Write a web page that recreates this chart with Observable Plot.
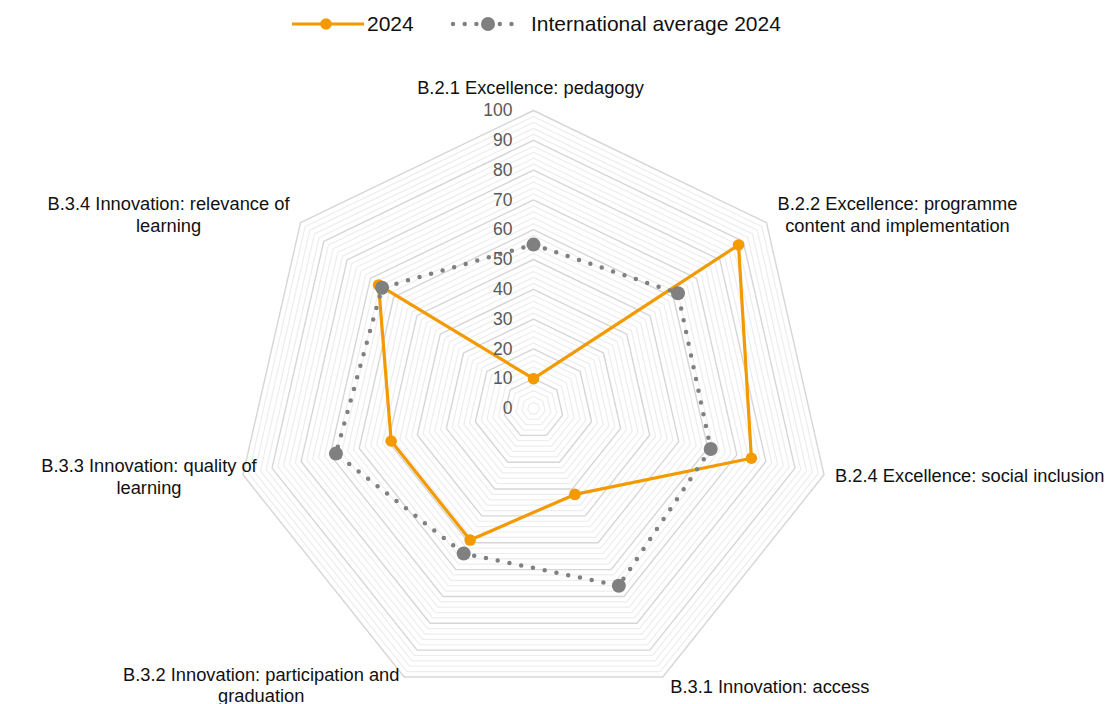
<!DOCTYPE html>
<html>
<head>
<meta charset="utf-8">
<script src="https://cdn.jsdelivr.net/npm/d3@7"></script>
<script src="https://cdn.jsdelivr.net/npm/@observablehq/plot@0.6"></script>
<style>
  html, body { margin: 0; padding: 0; background: #fff; }
  body { width: 1110px; height: 704px; overflow: hidden; font-family: "Liberation Sans", Arial, sans-serif; }
  #legend { position: relative; height: 50px; width: 1110px; }
  .lg { position: absolute; top: 12px; font-size: 21px; color: #111; line-height: 24px; white-space: nowrap; }
  .sw { position: absolute; top: 14px; }
  #chart svg { display: block; }
</style>
</head>
<body>
<div id="legend"></div>
<div id="chart"></div>
<script>
// ---- data ----
const categories = [
  "B.2.1 Excellence: pedagogy",
  "B.2.2 Excellence: programme\ncontent and implementation",
  "B.2.4 Excellence: social inclusion",
  "B.3.1 Innovation: access",
  "B.3.2 Innovation: participation and\ngraduation",
  "B.3.3 Innovation: quality of\nlearning",
  "B.3.4 Innovation: relevance of\nlearning"
];
const values2024 = [10, 88, 75, 32, 49, 49, 66.5];
const valuesIntl = [55, 62, 61, 66, 54, 68, 65];
const seriesNames = ["2024", "International average 2024"];
const tickValues = [0, 10, 20, 30, 40, 50, 60, 70, 80, 90, 100];

// ---- layout / style (not data) ----
const ORANGE = "#F29A00";
const GREY = "#808080";
const k = 2.98;              // px per unit
const cx = 533, cy = 358;    // center inside SVG
const W = 1110, H = 654;
const labelOffsets = [
  {dx: -3, dy: -24, anchor: "middle"},
  {dx: 131, dy: -9, anchor: "middle"},
  {dx: 11, dy: 0, anchor: "start"},
  {dx: 107, dy: 8.5, anchor: "middle"},
  {dx: -143, dy: 7.5, anchor: "middle"},
  {dx: -94, dy: 1, anchor: "middle"},
  {dx: -132, dy: -8.5, anchor: "middle"}
];

const n = categories.length;
const ang = i => 2 * Math.PI * i / n;
const px = (r, i) => r * Math.sin(ang(i));
const py = (r, i) => r * Math.cos(ang(i));

// grid rings
const rings = [];
for (let v = 2; v <= 100; v += 2) {
  for (let i = 0; i <= n; i++) rings.push({ring: v, major: v % 10 === 0, x: px(v, i % n), y: py(v, i % n)});
}
const seriesPts = (vals, name) => vals.map((v, i) => ({series: name, value: v, x: px(v, i), y: py(v, i)}));
const s1 = seriesPts(values2024, seriesNames[0]);
const s2 = seriesPts(valuesIntl, seriesNames[1]);
const closed = pts => [...pts, pts[0]];

const labelData = categories.map((c, i) => ({label: c, x: px(100, i), y: py(100, i), ...labelOffsets[i]}));

const marks = [
  Plot.line(rings.filter(d => !d.major), {x: "x", y: "y", z: "ring", stroke: "#ededed", strokeWidth: 1.2}),
  Plot.line(rings.filter(d => d.major), {x: "x", y: "y", z: "ring", stroke: "#d6d6d6", strokeWidth: 1.4}),
  Plot.line(closed(s1), {x: "x", y: "y", stroke: ORANGE, strokeWidth: 3.2, strokeLinejoin: "round"}),
  Plot.dot(s1, {x: "x", y: "y", r: 5.8, fill: ORANGE}),
  Plot.line(closed(s2), {x: "x", y: "y", stroke: GREY, strokeWidth: 4.5, strokeDasharray: "0 12", strokeLinecap: "round"}),
  Plot.dot(s2, {x: "x", y: "y", r: 7, fill: GREY}),
  Plot.text(tickValues, {x: () => 0, y: d => d, text: d => String(d), textAnchor: "end", dx: -21, fill: "#595959", fontSize: 17.5}),
];
for (const d of labelData) {
  marks.push(Plot.text([d], {x: "x", y: "y", text: "label", textAnchor: d.anchor, dx: d.dx, dy: d.dy, fill: "#111", fontSize: 18.3, lineHeight: 1.2}));
}

const chart = Plot.plot({
  width: W, height: H,
  marginTop: 0, marginBottom: 0, marginLeft: 0, marginRight: 0,
  style: {fontFamily: "'Liberation Sans', Arial, sans-serif", background: "white", overflow: "visible"},
  x: {domain: [-cx / k, (W - cx) / k], range: [0, W], axis: null},
  y: {domain: [-(H - cy) / k, cy / k], range: [H, 0], axis: null},
  marks
});
document.getElementById("chart").appendChild(chart);

// legend
const lg = document.getElementById("legend");
lg.innerHTML = `
  <svg class="sw" style="left:290px" width="76" height="20">
    <line x1="2" y1="10" x2="74" y2="10" stroke="${ORANGE}" stroke-width="3.2"/>
    <circle cx="36" cy="10" r="5.8" fill="${ORANGE}"/>
  </svg>
  <div class="lg" style="left:367px">${seriesNames[0]}</div>
  <svg class="sw" style="left:450px" width="76" height="20">
    <line x1="3" y1="10" x2="73" y2="10" stroke="${GREY}" stroke-width="4.5" stroke-dasharray="0 11.7" stroke-linecap="round"/>
    <circle cx="38" cy="10" r="7" fill="${GREY}"/>
  </svg>
  <div class="lg" style="left:531px">${seriesNames[1]}</div>
`;
</script>
</body>
</html>
